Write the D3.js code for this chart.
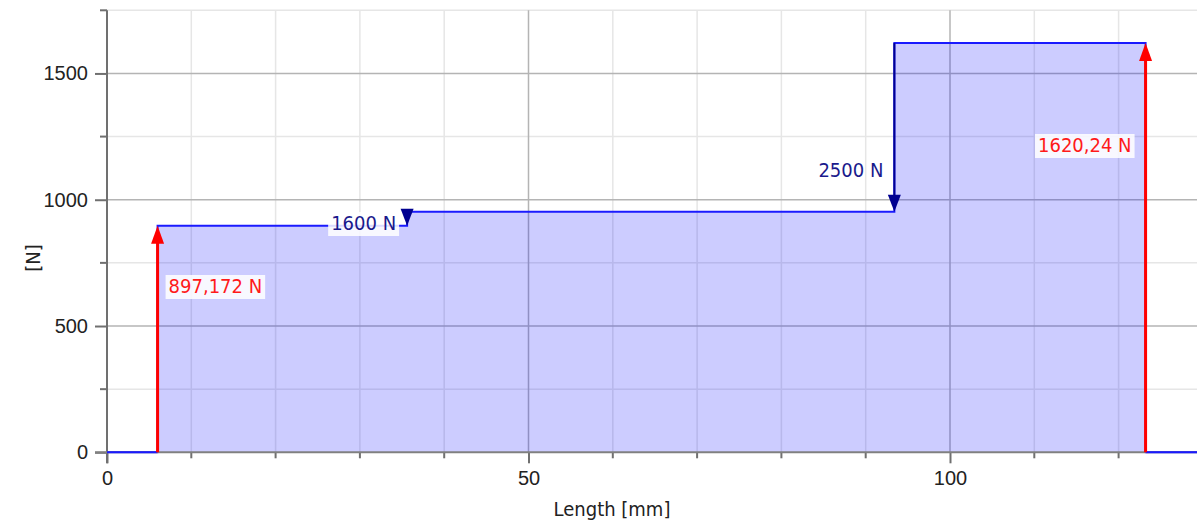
<!DOCTYPE html>
<html>
<head>
<meta charset="utf-8">
<script src="https://cdn.jsdelivr.net/npm/d3@7"></script>
<style>
  body { margin: 0; background: #fff; }
  svg { display: block; font-family: "DejaVu Sans Condensed", "DejaVu Sans", sans-serif; }
  .tick text { font-size: 20px; fill: #222; }
</style>
</head>
<body>
<svg></svg>
<script>
//Chart Data
const stepX = [0, 6, 35.6, 93.4, 123.2, 130];
const stepV = [0, 897.172, 952, 1620.24, 0, 0];

const reactionX = [6, 123.2];
const reactionV = [897.172, 1620.24];
const reactionLabels = ["897,172 N", "1620,24 N"];

const loadX = [35.6, 93.4];
const loadTop = [952, 1620.24];
const loadBottom = [897.172, 952];
const loadLabels = ["1600 N", "2500 N"];

const xMajor = [0, 50, 100];
const yMajor = [0, 500, 1000, 1500];

function drawChart(){
  const w = 1197;
  const h = 526;
  const left = 107;
  const top = 10.3;
  const bottom = 452.3;
  const fs = 20;

  const xScale = d3.scaleLinear().domain([0, 129.3]).range([left, w]);
  const yScale = d3.scaleLinear().domain([0, 1750]).range([bottom, top]);

  const chart = d3.select("svg").attr("width", w).attr("height", h);

  chart.append("defs").append("clipPath").attr("id", "plot")
       .append("rect").attr("x", left).attr("y", 0).attr("width", w - left).attr("height", bottom + 1);

  //Grid
  const grid = chart.append("g");
  const xMinor = d3.range(10, 130, 10).filter((d) => d % 50 !== 0);
  const yMinor = d3.range(250, 1751, 250).filter((d) => d % 500 !== 0);
  grid.selectAll(".xminor").data(xMinor).enter().append("line")
      .attr("x1", (d) => xScale(d)).attr("x2", (d) => xScale(d))
      .attr("y1", top).attr("y2", bottom)
      .attr("stroke", "#e6e6e6").attr("stroke-width", 1.5);
  grid.selectAll(".yminor").data(yMinor).enter().append("line")
      .attr("x1", left).attr("x2", w)
      .attr("y1", (d) => yScale(d)).attr("y2", (d) => yScale(d))
      .attr("stroke", "#e6e6e6").attr("stroke-width", 1.5);
  grid.selectAll(".xmajor").data(xMajor.slice(1)).enter().append("line")
      .attr("x1", (d) => xScale(d)).attr("x2", (d) => xScale(d))
      .attr("y1", top).attr("y2", bottom)
      .attr("stroke", "#b4b4b4").attr("stroke-width", 1.5);
  grid.selectAll(".ymajor").data(yMajor.slice(1)).enter().append("line")
      .attr("x1", left).attr("x2", w)
      .attr("y1", (d) => yScale(d)).attr("y2", (d) => yScale(d))
      .attr("stroke", "#b4b4b4").attr("stroke-width", 1.5);

  //Shear diagram
  const pts = stepX.map((x, i) => [x, stepV[i]]);
  const area = d3.area().curve(d3.curveStepAfter)
                 .x((d) => xScale(d[0])).y0(yScale(0)).y1((d) => yScale(d[1]));
  const line = d3.line().curve(d3.curveStepAfter)
                 .x((d) => xScale(d[0])).y((d) => yScale(d[1]));
  const plot = chart.append("g").attr("clip-path", "url(#plot)");
  plot.append("path").datum(pts).attr("d", area).attr("fill", "rgba(0,0,255,0.2)");
  plot.append("path").datum(pts).attr("d", line)
      .attr("fill", "none").attr("stroke", "#1a1aff").attr("stroke-width", 2);

  //Axes
  const xAxis = d3.axisBottom(xScale).tickValues(xMajor).tickSize(11).tickPadding(8).tickFormat(d3.format("d"));
  const xg = chart.append("g").attr("transform", `translate(0, ${bottom})`).call(xAxis);
  xg.append("g").selectAll("line").data(xMinor).enter()
    .append("line").attr("x1", (d) => xScale(d)).attr("x2", (d) => xScale(d))
    .attr("y1", 0).attr("y2", 6).attr("stroke", "#707070").attr("stroke-width", 2);
  const yAxis = d3.axisLeft(yScale).tickValues(yMajor).tickSize(12).tickPadding(7).tickFormat(d3.format("d"));
  const yg = chart.append("g").attr("transform", `translate(${left}, 0)`).call(yAxis);
  yg.append("g").selectAll("line").data(yMinor).enter()
    .append("line").attr("x1", -7).attr("x2", 0)
    .attr("y1", (d) => yScale(d)).attr("y2", (d) => yScale(d))
    .attr("stroke", "#707070").attr("stroke-width", 2);
  [xg, yg].forEach((g) => {
    g.select(".domain").remove();
    g.selectAll(".tick line").attr("stroke", "#707070").attr("stroke-width", 2);
  });
  chart.append("line").attr("x1", left).attr("x2", left).attr("y1", top).attr("y2", bottom + 11)
       .attr("stroke", "#707070").attr("stroke-width", 2);
  chart.append("line").attr("x1", left - 12).attr("x2", w).attr("y1", bottom).attr("y2", bottom)
       .attr("stroke", "#808080").attr("stroke-width", 2);
  // zero-level blue line over the axis
  chart.append("line").attr("x1", xScale(0)).attr("x2", xScale(reactionX[0])).attr("y1", bottom).attr("y2", bottom)
       .attr("stroke", "#1a1aff").attr("stroke-width", 2);
  chart.append("line").attr("x1", xScale(reactionX[1])).attr("x2", w).attr("y1", bottom).attr("y2", bottom)
       .attr("stroke", "#1a1aff").attr("stroke-width", 2);

  //Reaction arrows (red, upward)
  reactionX.forEach((x, i) => {
    const px = xScale(x);
    const py = yScale(reactionV[i]);
    chart.append("line").attr("x1", px).attr("x2", px).attr("y1", bottom).attr("y2", py + 14)
         .attr("stroke", "#ff0000").attr("stroke-width", 3);
    chart.append("path").attr("d", `M${px},${py} L${px - 6.5},${py + 18} L${px + 6.5},${py + 18} Z`)
         .attr("fill", "#ff0000");
  });

  //Load arrows (navy, downward)
  loadX.forEach((x, i) => {
    const px = xScale(x);
    const y1 = yScale(loadTop[i]);
    const y2 = yScale(loadBottom[i]);
    chart.append("line").attr("x1", px).attr("x2", px).attr("y1", y1).attr("y2", Math.max(y1, y2 - 14))
         .attr("stroke", "#000090").attr("stroke-width", 2);
    chart.append("path").attr("d", `M${px},${y2} L${px - 6.5},${y2 - 17} L${px + 6.5},${y2 - 17} Z`)
         .attr("fill", "#000090");
  });

  //Labels
  function label(x, y, text, color, anchor, bg){
    const g = chart.append("g");
    const t = g.append("text").attr("x", x).attr("y", y).attr("dy", "0.35em")
               .attr("text-anchor", anchor).attr("font-size", fs).attr("fill", color).text(text);
    if (bg) {
      const b = t.node().getBBox();
      g.insert("rect", "text").attr("x", b.x - 3).attr("y", b.y + 1).attr("width", b.width + 6).attr("height", b.height)
       .attr("fill", "rgba(255,255,255,0.85)");
    }
  }
  label(xScale(reactionX[0]) + 11, 286, reactionLabels[0], "#ff1a1a", "start", true);
  label(xScale(reactionX[1]) - 14, 145, reactionLabels[1], "#ff1a1a", "end", true);
  label(xScale(loadX[0]) - 11, 223, loadLabels[0], "#1a1a8c", "end", true);
  label(xScale(loadX[1]) - 11, 170, loadLabels[1], "#1a1a8c", "end", false);

  chart.append("text").attr("x", 612).attr("y", 516).attr("text-anchor", "middle")
       .attr("font-size", fs).attr("fill", "#222").text("Length [mm]");
  chart.append("text").attr("transform", "translate(33, 258) rotate(-90)").attr("dy", "0.35em")
       .attr("text-anchor", "middle").attr("font-size", fs).attr("fill", "#222").text("[N]");
}
drawChart();
</script>
</body>
</html>
